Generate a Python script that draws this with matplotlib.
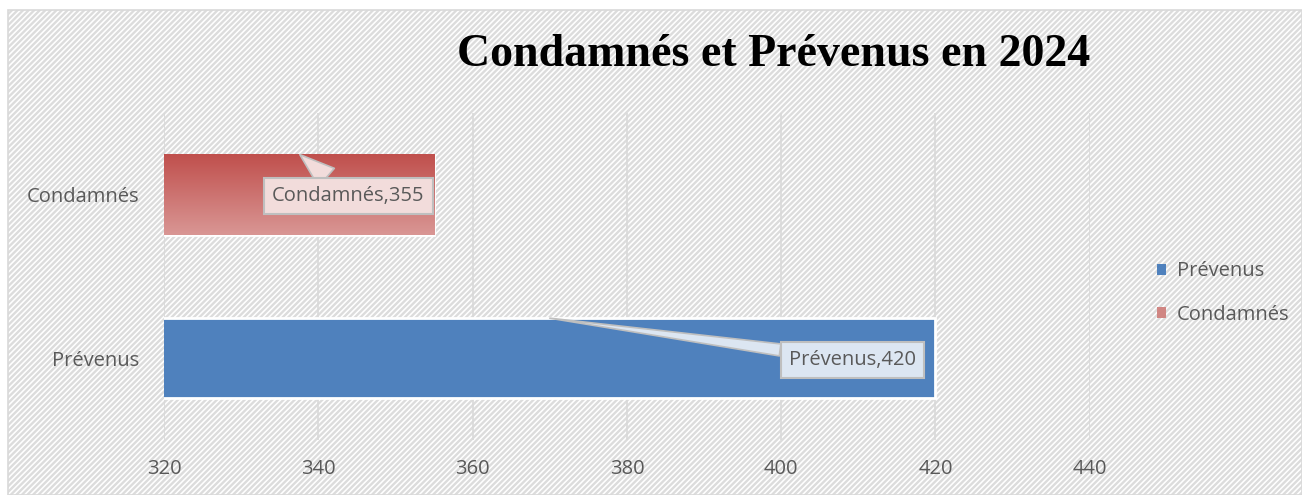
import numpy as np
import matplotlib
matplotlib.use('Agg')
from matplotlib import pyplot as plt
from matplotlib.patches import Rectangle, Patch
from matplotlib.colors import LinearSegmentedColormap

categories = ['Prévenus', 'Condamnés']
values = [420, 355]
colors = ['#4f81bd', '#c0504d']
x_ticks = [320, 340, 360, 380, 400, 420, 440]

plt.rcParams['font.family'] = ['Open Sans', 'DejaVu Sans']
plt.rcParams['hatch.linewidth'] = 1.7

fig = plt.figure(figsize=(13.02, 4.95), dpi=100)

# fond hachuré + bordure
bg = Rectangle((0.006, 0.0), 0.994, 0.98, transform=fig.transFigure,
               facecolor='white', edgecolor='#dcdcdc', hatch='//////', lw=0)
bg.set_zorder(-10)
fig.patches.append(bg)
frame = Rectangle((0.006, 0.0), 0.994, 0.98, transform=fig.transFigure,
                  facecolor='none', edgecolor='#d9d9d9', lw=1.2)
fig.patches.append(frame)

ax = fig.add_axes([0.126, 0.111, 0.711, 0.661])
ax.patch.set_alpha(0)
ax.set_xlim(320, 440)
ax.set_ylim(-0.5, 1.5)

ypos = np.arange(len(categories))
bars = ax.barh(ypos, values, height=0.49, color=colors, edgecolor='white',
               linewidth=2, zorder=2)

# dégradé pour la barre Condamnés
b = bars[1]
grad = np.linspace(0, 1, 100).reshape(-1, 1)
cmap = LinearSegmentedColormap.from_list('r', ['#d99694', '#c0504d'])
x0 = ax.get_xlim()[0]
ax.imshow(grad, cmap=cmap, aspect='auto', origin='lower',
          extent=[x0, b.get_width(), b.get_y(), b.get_y() + b.get_height()],
          zorder=2.5)
ax.set_xlim(320, 440)
ax.set_ylim(-0.5, 1.5)

ax.set_xticks(x_ticks)
ax.set_xticklabels([str(t) for t in x_ticks])
ax.set_yticks(ypos)
ax.set_yticklabels(categories)
ax.tick_params(axis='both', length=0, labelsize=14.5, colors='#595959')
ax.tick_params(axis='x', pad=14)
ax.tick_params(axis='y', pad=18)
ax.grid(axis='x', color='#d9d9d9', lw=1.2, zorder=0)
ax.set_axisbelow(True)
for s in ax.spines.values():
    s.set_visible(False)

# étiquettes de données
ax.annotate('Condamnés,355', xy=(337.6, 1.245), xytext=(334.0, 0.99),
            ha='left', va='center', fontsize=14.5, color='#595959', zorder=5,
            bbox=dict(boxstyle='square,pad=0.4', fc='#f2dcdb', ec='#bfbfbf', lw=1.5),
            arrowprops=dict(arrowstyle='wedge,tail_width=1.2', fc='#f2dcdb',
                            ec='#bfbfbf', lw=1.2, shrinkA=0, shrinkB=0))
ax.annotate('Prévenus,420', xy=(370, 0.245), xytext=(401.0, -0.01),
            ha='left', va='center', fontsize=14.5, color='#595959', zorder=5,
            bbox=dict(boxstyle='square,pad=0.4', fc='#dce6f2', ec='#bfbfbf', lw=1.5),
            arrowprops=dict(arrowstyle='wedge,tail_width=0.6', fc='#dce6f2',
                            ec='#bfbfbf', lw=1.2, shrinkA=0, shrinkB=0))

fig.text(0.594, 0.888, 'Condamnés et Prévenus en 2024', ha='center', va='center',
         fontsize=33, fontweight='bold', family='Liberation Serif', color='black')

handles = [Patch(facecolor=colors[0]), Patch(facecolor='#d08683')]
leg = fig.legend(handles, categories, loc='center left', bbox_to_anchor=(0.875, 0.408),
                 frameon=False, fontsize=14.5, handlelength=0.45, handleheight=0.45,
                 handletextpad=0.5, labelspacing=1.15, labelcolor='#595959')

fig.savefig('out.png', dpi=100)
